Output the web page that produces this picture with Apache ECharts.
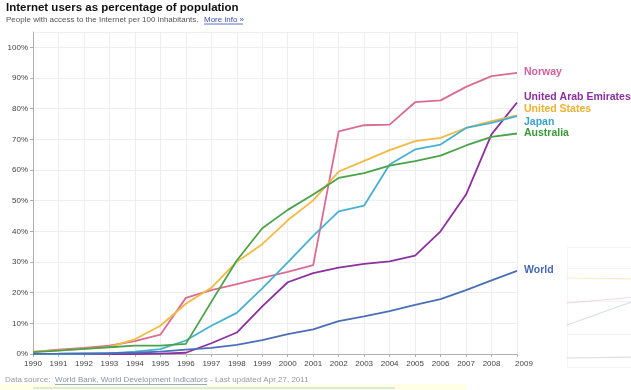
<!DOCTYPE html>
<html><head><meta charset="utf-8">
<script src="https://cdn.jsdelivr.net/npm/echarts@6/dist/echarts.min.js"></script>
<style>html,body{margin:0;padding:0;background:#fff}#c{width:631px;height:390px}</style>
</head><body><div id="c"></div>
<script>
const years = [1990,1991,1992,1993,1994,1995,1996,1997,1998,1999,2000,2001,2002,2003,2004,2005,2006,2007,2008,2009];
const norway = [0.7,1.4,2.0,2.7,4.2,6.3,18.3,20.8,22.8,24.8,26.8,29.0,72.6,74.6,74.8,82.1,82.7,87.1,90.6,91.7];
const uae    = [0.0,0.0,0.0,0.0,0.0,0.1,0.4,3.5,7.0,15.5,23.4,26.4,28.2,29.4,30.2,32.1,40.0,52.0,71.6,82.0];
const usa    = [0.8,1.2,1.7,2.3,4.8,9.2,16.4,21.6,30.1,35.8,43.6,50.1,59.5,63.0,66.5,69.4,70.5,73.7,75.9,77.8];
const japan  = [0.0,0.0,0.1,0.2,0.8,1.6,4.4,9.2,13.4,21.4,29.9,38.5,46.5,48.4,61.8,66.7,68.3,73.7,75.4,77.6];
const australia = [0.6,1.1,1.7,2.2,2.7,2.7,3.3,17.0,30.5,41.0,47.0,52.0,57.4,59.0,61.4,62.9,64.7,68.0,70.8,71.9];
const world  = [0.05,0.1,0.2,0.3,0.4,0.8,1.4,2.0,3.0,4.5,6.5,8.0,10.7,12.3,14.0,16.0,17.9,20.8,24.0,27.1];
const seriesNames = ['Norway','United Arab Emirates','United States','Japan','Australia','World'];
const yTicks = [0,10,20,30,40,50,60,70,80,90,100];
// faint background chart visible at the right edge
const ghostX = ['a','b','c'];
const ghost1 = [69,68,72];
const ghost2 = [44,50,55];
const ghost3 = [22,47,53];
const ghost4 = [-11,-10,3];

const colors = ['#dc6b94','#8c30a0','#f2b944','#47b1d1','#4aa34a','#4a6fb8'];
const labelColors = ['#d4609a','#8a2fa0','#f0b030','#3aa2d0','#3a9a3a','#4468b4'];
const labelOffsets = [[0,-1],[0,-5],[0,-6],[0,6],[0,0],[0,-1]];
const allData = [norway, uae, usa, japan, australia, world];

const chart = echarts.init(document.getElementById('c'), null, {renderer:'canvas'});
const FONT = 'Liberation Sans, Arial, sans-serif';

const series = allData.map((d,i)=>({
  name: seriesNames[i],
  type:'line',
  xAxisIndex:0, yAxisIndex:0,
  data: years.map((y,k)=>[y,d[k]]),
  showSymbol:false,
  symbol:'none',
  lineStyle:{width:1.8,color:colors[i]},
  itemStyle:{color:colors[i]},
  silent:true,
  animation:false,
  endLabel:{show:true, formatter:seriesNames[i], color:labelColors[i], fontWeight:'bold',
    fontSize:10.5, fontFamily:FONT, distance:7, offset:labelOffsets[i]}
}));
const ghostColors = ['#f2c26a','#d890b0','#8fa0c8','#a0a0a0'];
[ghost1,ghost2,ghost3,ghost4].forEach((d,i)=>{
  series.push({type:'line', xAxisIndex:1, yAxisIndex:1, data:d, showSymbol:false, symbol:'none',
    lineStyle:{width:1.2,color:ghostColors[i],opacity:0.35}, silent:true, animation:false});
});

chart.setOption({
  backgroundColor:'#ffffff',
  animation:false,
  grid:[
    {left:33, right:114, top:32, bottom:36, outerBoundsMode:'none', containLabel:false},
    {left:567, top:247, width:140, height:120, outerBoundsMode:'none', containLabel:false}
  ],
  xAxis:[{
    type:'value', min:1990, max:2009, interval:1, gridIndex:0,
    axisLine:{show:true, lineStyle:{color:'#b0b0b0', width:1}},
    axisTick:{show:true, length:3, lineStyle:{color:'#b0b0b0'}},
    splitLine:{show:true, lineStyle:{color:'#eeeeee', width:1}},
    axisLabel:{color:'#444', fontSize:8, fontFamily:FONT, margin:6,
      formatter:(v)=> v===2009 ? '{last|2009}' : String(v),
      rich:{last:{padding:[0,0,0,14], fontSize:8, color:'#444', fontFamily:FONT}}}
  },{
    type:'category', data:ghostX, gridIndex:1, boundaryGap:false,
    axisLine:{show:false}, axisTick:{show:false}, axisLabel:{show:false},
    splitLine:{show:true, lineStyle:{color:'#f3f3f3'}}
  }],
  yAxis:[{
    type:'value', min:0, max:105, interval:10, gridIndex:0,
    axisLine:{show:true, lineStyle:{color:'#b0b0b0', width:1}},
    axisTick:{show:true, length:3, lineStyle:{color:'#b0b0b0'}},
    splitLine:{show:true, lineStyle:{color:'#eeeeee', width:1}},
    axisLabel:{color:'#444', fontSize:8, fontFamily:FONT, margin:5, showMaxLabel:false,
      formatter:(v)=> yTicks.indexOf(v)>=0 ? v+'%' : ''}
  },{
    type:'value', min:-20, max:100, interval:33, gridIndex:1,
    axisLine:{show:false}, axisTick:{show:false}, axisLabel:{show:false},
    splitLine:{show:true, lineStyle:{color:'#f3f3f3'}}
  }],
  series: series,
  graphic:[
    {type:'rect', shape:{x:0,y:384,width:466,height:6}, style:{fill:'#ffffe6'}, silent:true, z:-1},
    {type:'line', shape:{x1:33,y1:388,x2:395,y2:388}, style:{stroke:'#b8d6cc', lineWidth:1}, silent:true},
    {type:'text', left:6, top:2, style:{text:'Internet users as percentage of population', font:'bold 11.5px '+FONT, fill:'#111'}},
    {type:'text', left:6, top:16, style:{text:'People with access to the Internet per 100 inhabitants.', font:'8px '+FONT, fill:'#555'}},
    {type:'text', left:204, top:16, style:{text:'More info »', font:'8px '+FONT, fill:'#3b4fb0'}},
    {type:'line', shape:{x1:204,y1:24,x2:243,y2:24}, style:{stroke:'#3b4fb0', lineWidth:0.8}},
    {type:'text', left:5, top:376, style:{text:'Data source: ', font:'8px '+FONT, fill:'#999'}},
    {type:'text', left:55, top:376, style:{text:'World Bank, World Development Indicators', font:'8px '+FONT, fill:'#8890b0'}},
    {type:'line', shape:{x1:55,y1:384.5,x2:207,y2:384.5}, style:{stroke:'#8890b0', lineWidth:0.8}},
    {type:'text', left:210, top:376, style:{text:'- Last updated Apr 27, 2011', font:'8px '+FONT, fill:'#999'}}
  ]
});
</script></body></html>
